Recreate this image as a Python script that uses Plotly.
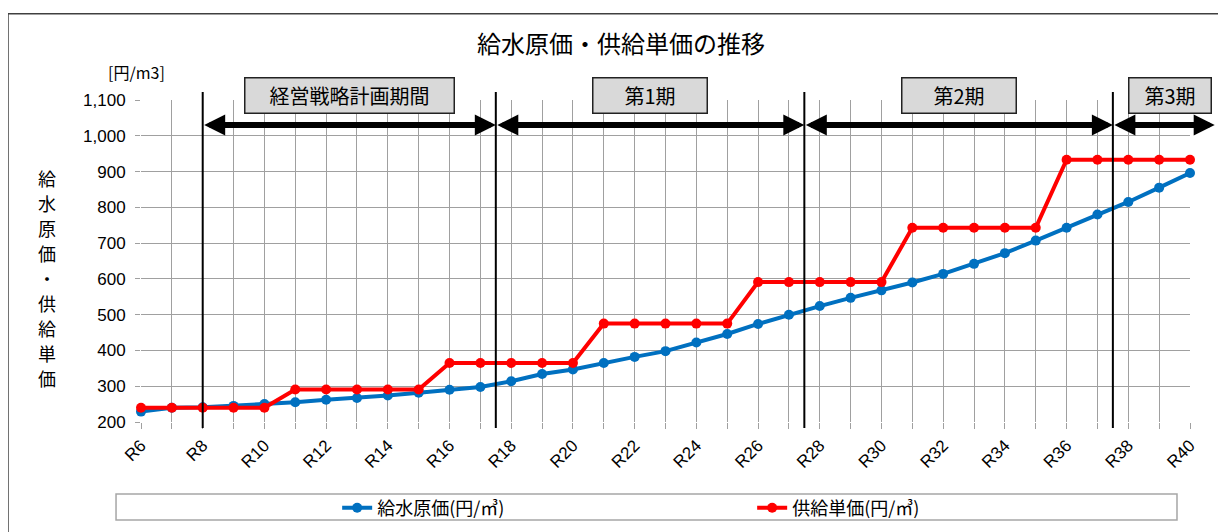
import plotly.graph_objects as go

# ---- data ----
years = ["R6", "R7", "R8", "R9", "R10", "R11", "R12", "R13", "R14", "R15",
         "R16", "R17", "R18", "R19", "R20", "R21", "R22", "R23", "R24", "R25",
         "R26", "R27", "R28", "R29", "R30", "R31", "R32", "R33", "R34", "R35",
         "R36", "R37", "R38", "R39", "R40"]
cost_water = [229, 240, 241, 245, 250, 255, 262, 267, 274, 282,
              290, 298, 314, 334, 347, 365, 382, 398, 422, 446,
              474, 500, 524, 547, 568, 590, 614, 642, 672, 707,
              743, 780, 815, 855, 896]
supply_price = [240, 240, 240, 240, 240, 291, 291, 291, 291, 291,
                365, 365, 365, 365, 365, 475, 475, 475, 475, 475,
                591, 591, 591, 591, 591, 743, 743, 743, 743, 743,
                933, 933, 933, 933, 933]
series_names = ["給水原価(円/㎥)", "供給単価(円/㎥)"]
period_labels = ["経営戦略計画期間", "第1期", "第2期", "第3期"]
# period boundaries as positions on the year index axis (R6 = 0)
period_bounds = [2, 11.5, 21.5, 31.5, 34.8]
arrow_level = 1030
y_title = "給水原価・供給単価"

# ---- style ----
CJK = "Noto Sans CJK JP"
LAT = "Liberation Sans"
box_widths = [200, 105, 105, 73]
box_centers = [6.75, 16.5, 26.5, 33.35]
xi = list(range(len(years)))
ticktext = [y if i % 2 == 0 else "" for i, y in enumerate(years)]

fig = go.Figure()
fig.add_trace(go.Scatter(x=xi, y=cost_water, name=series_names[0], mode="lines+markers",
                         line=dict(color="#0070C0", width=4),
                         marker=dict(color="#0070C0", size=10), cliponaxis=False))
fig.add_trace(go.Scatter(x=xi, y=supply_price, name=series_names[1], mode="lines+markers",
                         line=dict(color="#FF0000", width=4),
                         marker=dict(color="#FF0000", size=10), cliponaxis=False))

shapes = []
annotations = []
# period boundary lines
for b in period_bounds[:4]:
    shapes.append(dict(type="line", xref="x", yref="paper", x0=b, x1=b,
                       y0=-0.019, y1=1.025, line=dict(color="black", width=2)))
# double-headed arrows and period labels
for i, lab in enumerate(period_labels):
    a, b = period_bounds[i], period_bounds[i + 1]
    annotations.append(dict(x=b, y=arrow_level, ax=a, ay=arrow_level, xref="x", yref="y",
                            axref="x", ayref="y", text="", showarrow=True,
                            arrowside="end+start", arrowhead=2, startarrowhead=2,
                            arrowsize=0.7, startarrowsize=0.7, arrowwidth=6,
                            arrowcolor="black"))
    annotations.append(dict(x=box_centers[i], y=1.014, xref="x", yref="paper", text=lab,
                            yanchor="middle", showarrow=False,
                            font=dict(family=CJK, size=20, color="black"),
                            bgcolor="#D9D9D9", bordercolor="#222222", borderwidth=1.5,
                            borderpad=4, width=box_widths[i], height=26))
# outer chart frame
shapes.append(dict(type="rect", xref="paper", yref="paper", x0=-0.1268, x1=1.1,
                   y0=-0.45, y1=1.268, line=dict(color="#404040", width=1.5), layer="below"))
# legend frame
shapes.append(dict(type="rect", xref="paper", yref="paper", x0=-0.0238, x1=0.9876,
                   y0=-0.3043, y1=-0.2236, line=dict(color="#A6A6A6", width=1.5)))

# y-axis title (vertical, one character per line) and unit
for k, ch in enumerate(y_title):
    annotations.append(dict(x=-0.0896, y=(422 - (178 + 25 * k)) / 322,
                            xref="paper", yref="paper", text=ch, showarrow=False,
                            yanchor="middle", xanchor="center", borderpad=0,
                            font=dict(family=CJK, size=18, color="black")))
annotations.append(dict(x=-0.0334, y=1.087, xref="paper", yref="paper",
                        text="[円/m3]", showarrow=False, yanchor="middle",
                        font=dict(family=CJK, size=16, color="black")))

fig.update_layout(
    width=1226, height=532,
    margin=dict(l=133, r=44, t=92, b=118),
    paper_bgcolor="white", plot_bgcolor="white",
    title=dict(text="給水原価・供給単価の推移", x=0.5, xanchor="center",
               y=0.932, yanchor="middle", font=dict(family=CJK, size=24, color="black")),
    xaxis=dict(range=[0, 34], tickvals=xi, ticktext=ticktext, tickangle=-45,
               showgrid=True, gridcolor="#A0A0A0", gridwidth=1, zeroline=False,
               ticks="outside", ticklen=6, tickcolor="#A0A0A0", showline=False,
               tickfont=dict(family=LAT, size=17, color="black")),
    yaxis=dict(range=[200, 1100], dtick=100, tickformat=",", showgrid=True,
               gridcolor="#A0A0A0", gridwidth=1, zeroline=False,
               ticks="outside", ticklen=5, tickcolor="#A0A0A0", showline=False,
               ticklabelstandoff=6,
               tickfont=dict(family=LAT, size=17, color="black")),
    legend=dict(orientation="h", x=0.187, xanchor="left", y=-0.267, yanchor="middle",
                entrywidth=370, entrywidthmode="pixels", bgcolor="rgba(0,0,0,0)",
                font=dict(family=CJK, size=18, color="black")),
    shapes=shapes, annotations=annotations,
)

fig.write_html("out.html")
